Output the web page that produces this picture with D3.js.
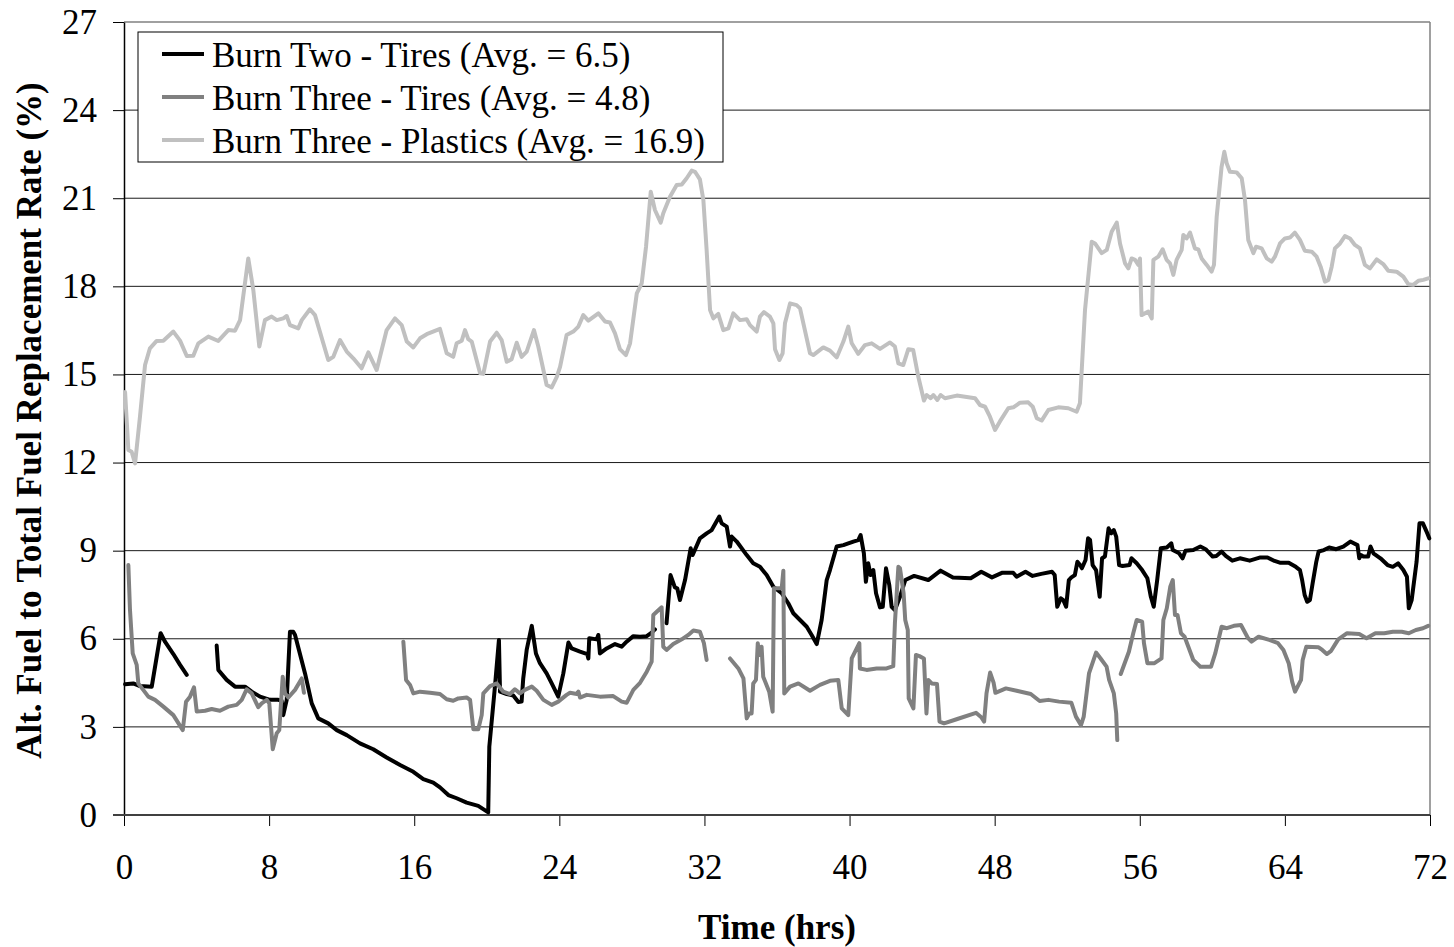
<!DOCTYPE html>
<html>
<head>
<meta charset="utf-8">
<script src="https://cdn.jsdelivr.net/npm/d3@7"></script>
<style>
  body { margin: 0; background: #fff; }
</style>
</head>
<body>
<svg id="chart" width="1454" height="947"></svg>
<script>
// ===== Data (hours, % replacement; null = gap in record) =====
const seriesLabels = [
    'Burn Two - Tires (Avg. = 6.5)',
    'Burn Three - Tires (Avg. = 4.8)',
    'Burn Three - Plastics (Avg. = 16.9)'
];
const seriesColors = ['#000000', '#808080', '#c0c0c0'];
const xTicks = [0, 8, 16, 24, 32, 40, 48, 56, 64, 72];
const yTicks = [0, 3, 6, 9, 12, 15, 18, 21, 24, 27];

const burnTwoTires = [
    [0.06,4.45],[0.51,4.48],[0.88,4.39],[1.53,4.37],[2.02,6.19],[2.26,5.9],[2.72,5.48],[3.09,5.11],[3.46,4.77],
    [4.3,null],
    [5.11,5.77],[5.2,4.94],[5.66,4.6],[6.12,4.37],[6.67,4.37],[7.04,4.2],[7.5,4.03],[8.05,3.92],[8.51,3.92],[8.69,3.89],
    [8.78,3.4],[8.97,3.92],[9.15,6.24],[9.33,6.24],[9.43,6.13],[9.98,4.82],[10.35,3.8],[10.71,3.29],[11.26,3.12],[11.73,2.89],
    [12.28,2.72],[13.01,2.44],[13.74,2.24],[14.48,1.96],[15.22,1.7],[15.95,1.47],[16.5,1.22],[17.05,1.1],[17.42,0.94],[17.88,0.68],
    [18.34,0.57],[18.89,0.42],[19.53,0.31],[20.08,0.09],[20.14,2.33],[20.45,4.37],[20.67,5.96],[20.73,4.2],[21.1,4.12],[21.46,4.07],
    [21.74,3.85],[21.92,3.86],[22.01,4.65],[22.2,5.62],[22.48,6.44],[22.71,5.5],[22.93,5.17],[23.3,4.82],[23.58,4.48],[23.94,4.03],
    [24.22,4.82],[24.5,5.87],[24.68,5.67],[25.14,5.56],[25.54,5.48],[25.6,5.33],[25.65,6.02],[26.06,5.98],[26.15,6.13],[26.24,5.5],
    [26.61,5.67],[27.07,5.82],[27.44,5.73],[27.71,5.9],[28.08,6.09],[28.45,6.07],[28.82,6.09],[29.09,6.21],[29.27,6.32],
    [29.6,null],
    [29.91,6.53],[30.13,8.17],[30.37,7.75],[30.5,7.72],[30.65,7.32],[30.93,8.0],[31.24,9.08],[31.35,8.85],[31.75,9.42],[32.12,9.59],
    [32.4,9.7],[32.82,10.16],[32.95,9.93],[33.23,9.82],[33.41,9.14],[33.5,9.48],[33.78,9.31],[34.33,8.85],[34.69,8.57],[35.06,8.45],
    [35.43,8.17],[35.8,7.77],[36.26,7.55],[36.62,7.21],[36.9,6.87],[37.27,6.64],[37.64,6.41],[37.91,6.13],[38.19,5.82],[38.46,6.64],
    [38.74,8.0],[38.92,8.34],[39.29,9.14],[39.66,9.19],[39.93,9.25],[40.21,9.31],[40.48,9.36],[40.61,9.53],[40.79,8.91],[40.9,7.94],
    [41.03,8.57],[41.16,8.17],[41.31,8.34],[41.46,7.55],[41.68,7.07],[41.83,7.09],[42.01,8.4],[42.19,7.83],[42.32,7.09],[42.5,6.98],
    [42.78,7.43],[43.07,8.0],[43.56,8.14],[44.34,8.0],[45.02,8.32],[45.7,8.09],[46.68,8.06],[47.26,8.28],[47.85,8.09],[48.43,8.25],
    [49.02,8.25],[49.21,8.11],[49.7,8.28],[50.09,8.14],[50.57,8.21],[51.16,8.28],[51.31,8.17],[51.45,7.09],[51.65,7.38],[51.78,7.32],
    [51.94,7.09],[52.09,8.0],[52.23,8.09],[52.42,8.17],[52.56,8.62],[52.71,8.51],[52.81,8.4],[53.01,8.68],[53.15,9.42],[53.26,9.36],
    [53.4,8.51],[53.59,8.34],[53.79,7.43],[53.92,8.74],[54.08,8.8],[54.28,9.76],[54.43,9.59],[54.57,9.7],[54.7,9.48],[54.86,8.51],
    [55.05,8.48],[55.44,8.51],[55.54,8.74],[55.83,8.57],[56.13,8.34],[56.42,8.06],[56.61,7.43],[56.77,7.09],[56.96,8.0],[57.16,9.08],
    [57.49,9.11],[57.74,9.25],[57.82,9.02],[58.17,8.91],[58.36,8.74],[58.52,9.0],[58.95,9.02],[59.34,9.14],[59.63,9.05],[60.02,8.8],
    [60.22,8.82],[60.51,8.97],[60.74,8.82],[61.1,8.66],[61.52,8.74],[62.06,8.66],[62.65,8.77],[63.04,8.77],[63.43,8.65],[63.72,8.59],
    [64.21,8.59],[64.6,8.45],[64.83,8.34],[64.95,8.0],[65.09,7.49],[65.23,7.26],[65.38,7.32],[65.53,7.89],[65.73,8.62],[65.86,8.97],
    [66.15,9.02],[66.44,9.11],[66.83,9.05],[67.22,9.14],[67.61,9.31],[68.0,9.19],[68.1,8.74],[68.19,8.85],[68.33,8.8],[68.59,8.8],
    [68.72,9.14],[68.88,8.91],[69.27,8.74],[69.66,8.51],[69.95,8.45],[70.24,8.57],[70.53,8.34],[70.73,8.11],[70.83,7.04],[70.99,7.32],
    [71.26,8.62],[71.42,9.93],[71.61,9.93],[71.81,9.65],[71.96,9.42]
];

const burnThreeTires = [
    [0.24,8.51],[0.33,6.98],[0.48,5.5],[0.7,5.11],[0.79,4.48],[1.06,4.26],[1.34,4.03],[1.71,3.92],[2.17,3.69],[2.72,3.4],
    [3.24,2.89],[3.42,3.86],[3.64,4.03],[3.86,4.35],[4.01,3.52],[4.47,3.55],[4.83,3.61],[5.29,3.55],[5.75,3.69],[6.21,3.75],
    [6.49,3.92],[6.76,4.28],[7.04,4.14],[7.4,3.67],[7.59,3.8],[7.87,3.92],[8.01,3.8],[8.2,2.24],[8.42,2.78],[8.56,2.89],
    [8.75,4.71],[8.88,4.14],[9.06,4.0],[9.43,4.26],[9.8,4.65],[9.92,4.16],
    [12,null],
    [15.4,5.9],[15.55,4.6],[15.77,4.43],[15.95,4.14],[16.32,4.2],[16.87,4.16],[17.42,4.12],[17.79,3.94],[18.15,3.89],[18.43,3.97],
    [18.89,4.0],[19.08,3.92],[19.26,2.92],[19.53,2.92],[19.72,3.4],[19.81,4.14],[20.18,4.39],[20.55,4.48],[20.91,4.2],[21.28,4.12],
    [21.55,4.28],[21.83,4.14],[22.1,4.26],[22.48,4.37],[22.75,4.23],[23.12,3.92],[23.58,3.75],[23.94,3.86],[24.4,4.09],[24.59,4.16],
    [24.96,4.12],[25.05,4.2],[25.14,4.0],[25.51,4.09],[26.24,4.03],[26.97,4.05],[27.44,3.86],[27.71,3.82],[28.08,4.26],[28.45,4.5],
    [28.82,4.88],[29.09,5.22],[29.18,6.81],[29.37,6.92],[29.64,7.07],[29.73,5.73],[29.91,5.62],[30.28,5.82],[30.75,5.98],[31.11,6.13],
    [31.39,6.28],[31.75,6.24],[31.97,5.85],[32.12,5.28],
    [32.8,null],
    [33.41,5.33],[33.87,4.99],[34.15,4.65],[34.33,3.29],[34.47,3.46],[34.6,3.46],[34.69,4.48],[34.84,4.6],[34.94,5.85],[35.02,5.45],
    [35.15,5.73],[35.24,4.71],[35.57,4.2],[35.76,3.52],[35.83,7.72],[36.26,7.72],[36.35,8.32],[36.4,4.14],[36.72,4.37],[37.18,4.48],
    [37.82,4.23],[38.37,4.43],[38.92,4.57],[39.38,4.6],[39.57,3.63],[39.93,3.4],[40.12,5.33],[40.54,5.85],[40.57,4.99],[40.94,4.94],
    [41.49,4.99],[42.04,4.99],[42.41,5.07],[42.5,6.53],[42.69,8.45],[42.78,8.4],[42.98,7.55],[43.07,6.64],[43.21,6.3],[43.26,3.97],
    [43.52,3.63],[43.66,5.45],[43.85,5.41],[44.1,5.33],[44.24,3.46],[44.34,4.6],[44.53,4.48],[44.82,4.46],[44.96,3.18],[45.21,3.12],
    [45.9,3.26],[46.97,3.48],[47.26,3.33],[47.42,3.18],[47.55,4.14],[47.75,4.85],[47.94,4.51],[48.04,4.16],[48.62,4.31],[49.21,4.23],
    [49.99,4.12],[50.48,3.88],[50.96,3.92],[51.55,3.86],[52.23,3.82],[52.48,3.35],[52.76,3.06],[52.91,3.35],[53.2,4.82],[53.59,5.53],
    [53.84,5.33],[54.17,5.05],[54.31,4.6],[54.57,4.14],[54.7,3.46],[54.76,2.55],
    [54.85,null],
    [54.95,4.8],[55.4,5.56],[55.64,6.19],[55.83,6.64],[56.13,6.58],[56.23,5.85],[56.42,5.17],[56.81,5.17],[57.2,5.33],[57.3,6.64],
    [57.49,7.04],[57.68,7.77],[57.82,8.0],[57.94,6.81],[58.08,6.81],[58.27,6.19],[58.47,6.07],[58.95,5.28],[59.34,5.05],[59.93,5.05],
    [60.16,5.5],[60.51,6.41],[60.8,6.36],[61.19,6.44],[61.58,6.47],[61.97,6.02],[62.16,5.9],[62.55,6.07],[63.14,5.96],[63.62,5.85],
    [63.92,5.62],[64.21,5.17],[64.4,4.54],[64.56,4.2],[64.89,4.6],[64.98,5.28],[65.18,5.73],[65.86,5.71],[66.06,5.62],[66.31,5.48],
    [66.55,5.59],[66.94,5.98],[67.43,6.19],[68.1,6.16],[68.5,6.02],[68.99,6.19],[69.48,6.19],[69.95,6.24],[70.44,6.24],[70.83,6.19],
    [71.22,6.3],[71.61,6.36],[71.9,6.44]
];

const burnThreePlastics = [
    [0.06,14.4],[0.24,12.43],[0.42,12.37],[0.61,11.97],[0.88,13.56],[1.16,15.32],[1.43,15.89],[1.8,16.14],[2.17,16.15],[2.72,16.46],
    [3.09,16.15],[3.46,15.63],[3.82,15.64],[4.1,16.06],[4.65,16.29],[5.2,16.14],[5.75,16.51],[6.12,16.49],[6.4,16.85],[6.85,18.95],
    [7.13,17.87],[7.46,15.95],[7.77,16.85],[8.14,16.97],[8.42,16.85],[8.78,16.91],[8.97,16.99],[9.15,16.68],[9.61,16.57],[9.8,16.85],
    [10.25,17.22],[10.53,17.02],[11.26,15.49],[11.54,15.6],[11.91,16.17],[12.28,15.78],[12.64,15.55],[13.1,15.21],[13.47,15.75],[13.93,15.15],
    [14.48,16.51],[14.94,16.91],[15.31,16.68],[15.59,16.12],[15.95,15.92],[16.32,16.23],[16.69,16.37],[17.42,16.55],[17.79,15.72],[18.15,15.6],
    [18.34,16.06],[18.62,16.15],[18.8,16.51],[18.98,16.2],[19.17,16.12],[19.63,15.04],[19.81,15.02],[20.18,16.12],[20.55,16.42],[20.82,16.17],
    [21.1,15.43],[21.37,15.52],[21.65,16.08],[21.92,15.6],[22.2,15.78],[22.6,16.51],[22.84,15.95],[23.3,14.64],[23.58,14.56],[23.86,14.92],
    [24.04,15.26],[24.4,16.34],[24.77,16.46],[25.05,16.63],[25.32,17.02],[25.6,16.83],[26.15,17.08],[26.52,16.8],[26.79,16.77],[27.07,16.4],
    [27.34,15.86],[27.67,15.66],[27.9,16.06],[28.27,17.76],[28.54,18.1],[28.78,19.35],[29.04,21.22],[29.27,20.6],[29.59,20.17],[29.73,20.49],
    [30.1,21.05],[30.47,21.45],[30.75,21.47],[31.02,21.68],[31.3,21.94],[31.48,21.9],[31.75,21.64],[31.94,20.94],[32.12,19.24],[32.31,17.19],
    [32.49,16.91],[32.76,17.06],[33.04,16.51],[33.32,16.57],[33.59,17.08],[33.96,16.85],[34.33,16.88],[34.51,16.68],[34.88,16.46],[35.06,16.97],
    [35.28,17.12],[35.61,16.97],[35.8,16.74],[35.89,15.86],[36.13,15.49],[36.31,15.72],[36.44,16.74],[36.72,17.42],[37.08,17.36],[37.27,17.25],
    [37.82,15.72],[38.0,15.66],[38.55,15.92],[38.92,15.81],[39.29,15.58],[39.66,16.12],[39.93,16.63],[40.12,16.06],[40.48,15.7],[40.85,16.0],
    [41.22,16.06],[41.68,15.87],[42.23,16.09],[42.5,15.95],[42.69,15.38],[42.96,15.32],[43.24,15.86],[43.51,15.83],[43.79,14.92],[44.1,14.11],
    [44.25,14.3],[44.47,14.19],[44.62,14.3],[44.84,14.13],[45.02,14.3],[45.26,14.19],[45.91,14.28],[46.92,14.19],[47.19,13.96],[47.47,13.9],
    [47.74,13.56],[48.02,13.11],[48.29,13.4],[48.75,13.85],[49.03,13.88],[49.4,14.04],[49.85,14.05],[50.1,13.9],[50.32,13.51],[50.59,13.43],
    [50.96,13.79],[51.51,13.88],[52.06,13.85],[52.52,13.73],[52.7,14.02],[52.98,17.19],[53.35,19.52],[53.53,19.46],[53.9,19.13],[54.18,19.24],
    [54.45,19.86],[54.73,20.17],[54.91,19.46],[55.19,18.78],[55.37,18.61],[55.55,18.95],[55.74,18.9],[55.92,18.73],[56.01,18.95],[56.1,17.02],
    [56.47,17.14],[56.66,16.91],[56.75,18.9],[57.02,19.01],[57.26,19.26],[57.48,18.9],[57.67,18.78],[57.85,18.39],[58.03,18.9],[58.31,19.24],
    [58.4,19.75],[58.58,19.63],[58.77,19.83],[59.04,19.29],[59.23,19.26],[59.41,18.95],[59.69,18.73],[59.96,18.5],[60.09,18.73],[60.24,20.37],
    [60.51,22.07],[60.66,22.58],[60.79,22.19],[60.97,21.9],[61.34,21.88],[61.62,21.68],[61.8,20.94],[61.98,19.58],[62.26,19.13],[62.41,19.35],
    [62.72,19.29],[63.0,18.95],[63.27,18.84],[63.45,19.01],[63.73,19.46],[64.0,19.63],[64.28,19.66],[64.55,19.83],[64.83,19.58],[65.1,19.21],
    [65.48,19.18],[65.75,19.01],[65.97,18.67],[66.21,18.16],[66.4,18.22],[66.58,18.67],[66.76,19.29],[67.04,19.46],[67.31,19.71],[67.59,19.63],
    [67.86,19.41],[68.14,19.29],[68.41,18.73],[68.69,18.61],[69.06,18.92],[69.42,18.76],[69.7,18.53],[70.16,18.5],[70.53,18.33],[70.81,18.07],
    [71.08,18.05],[71.36,18.19],[71.63,18.22],[71.9,18.27]
];

const allSeries = [burnTwoTires, burnThreeTires, burnThreePlastics];

// ===== Layout =====
const margin = { top: 22, right: 24, bottom: 132, left: 124 };
const width  = 1454;
const height = 947;
const fontFamily = '"Times New Roman", "Liberation Serif", serif';
const fontSize = 35;

const svg = d3.select('#chart');

const x = d3.scaleLinear().domain([0, 72]).range([margin.left, width - margin.right]);
const y = d3.scaleLinear().domain([0, 27]).range([height - margin.bottom, margin.top]);

const x0 = x.range()[0], x1 = x.range()[1];
const yTop = y.range()[1], yBot = y.range()[0];

// --- Gridlines ---
svg.append('g')
    .selectAll('line')
    .data(yTicks.filter(v => v > 0 && v < 27))
    .join('line')
    .attr('x1', x0).attr('x2', x1)
    .attr('y1', d => y(d)).attr('y2', d => y(d))
    .style('stroke', '#1a1a1a')
    .style('stroke-width', '1px');

// --- Plot frame (top + right in gray) ---
svg.append('line')
    .attr('x1', x0).attr('x2', x1).attr('y1', yTop).attr('y2', yTop)
    .style('stroke', '#808080').style('stroke-width', '1.5px');
svg.append('line')
    .attr('x1', x1).attr('x2', x1).attr('y1', yTop).attr('y2', yBot)
    .style('stroke', '#808080').style('stroke-width', '1.5px');

// --- Y axis ---
const yAxis = svg.append('g')
    .attr('transform', `translate(${x0},0)`)
    .call(d3.axisLeft(y).tickValues(yTicks).tickSize(11).tickSizeOuter(0).tickPadding(16));
yAxis.select('.domain').style('stroke', '#000').style('stroke-width', '1.5px');
yAxis.selectAll('.tick line').style('stroke', '#000').style('stroke-width', '1px');
yAxis.selectAll('.tick text')
    .style('font-family', fontFamily)
    .style('font-size', fontSize + 'px')
    .style('fill', '#000');

// --- X axis ---
const xAxis = svg.append('g')
    .attr('transform', `translate(0,${yBot})`)
    .call(d3.axisBottom(x).tickValues(xTicks).tickSize(11).tickSizeOuter(0).tickPadding(28));
xAxis.select('.domain').remove();
xAxis.selectAll('.tick line').style('stroke', '#000').style('stroke-width', '1px');
xAxis.selectAll('.tick text')
    .style('font-family', fontFamily)
    .style('font-size', fontSize + 'px')
    .style('fill', '#000');
svg.append('line')
    .attr('x1', x0 - 11).attr('x2', x1)
    .attr('y1', yBot).attr('y2', yBot)
    .style('stroke', '#404040')
    .style('stroke-width', '2px');

// --- Series lines ---
const line = d3.line()
    .defined(d => d[1] !== null)
    .x(d => x(d[0]))
    .y(d => y(d[1]));

svg.append('g')
    .selectAll('path')
    .data(allSeries)
    .join('path')
    .attr('d', line)
    .style('fill', 'none')
    .style('stroke', (d, i) => seriesColors[i])
    .style('stroke-width', '4px')
    .style('stroke-linejoin', 'round')
    .style('stroke-linecap', 'round');

// --- Axis titles ---
svg.append('text')
    .attr('x', (x0 + x1) / 2)
    .attr('y', 939)
    .text('Time (hrs)')
    .style('font-family', fontFamily)
    .style('font-size', fontSize + 'px')
    .style('font-weight', 'bold')
    .style('text-anchor', 'middle');

svg.append('text')
    .attr('transform', `translate(41,${(yTop + yBot) / 2 + 2}) rotate(-90)`)
    .text('Alt. Fuel to Total Fuel Replacement Rate (%)')
    .style('font-family', fontFamily)
    .style('font-size', fontSize + 'px')
    .style('font-weight', 'bold')
    .style('text-anchor', 'middle');

// --- Legend ---
const legend = svg.append('g').attr('transform', 'translate(138,32)');
legend.append('rect')
    .attr('width', 585).attr('height', 130)
    .style('fill', '#fff')
    .style('stroke', '#000')
    .style('stroke-width', '1px');

const rowGap = 43;
const rows = legend.selectAll('g.row')
    .data(seriesLabels)
    .join('g')
    .attr('class', 'row')
    .attr('transform', (d, i) => `translate(0,${22 + i * rowGap})`);
rows.append('line')
    .attr('x1', 24).attr('x2', 66)
    .attr('y1', 0).attr('y2', 0)
    .style('stroke', (d, i) => seriesColors[i])
    .style('stroke-width', '4px');
rows.append('text')
    .attr('x', 74).attr('y', 13)
    .text(d => d)
    .style('font-family', fontFamily)
    .style('font-size', fontSize + 'px')
    .style('fill', '#000');
</script>
</body>
</html>
